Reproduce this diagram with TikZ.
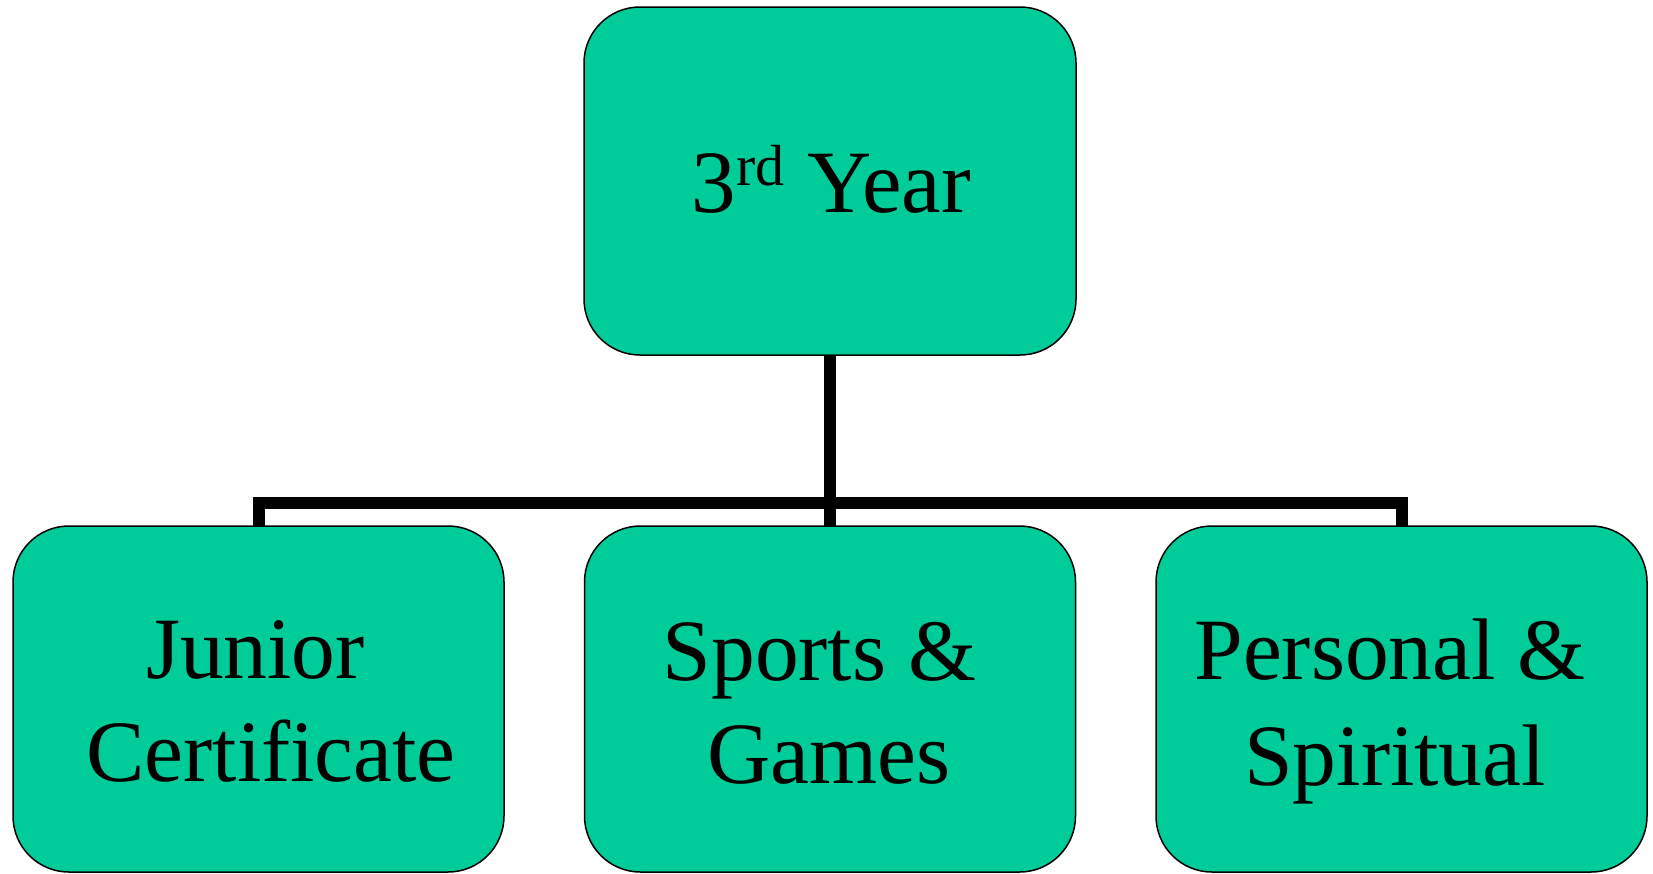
\documentclass[tikz,border=0pt]{standalone}
\usepackage{fontspec}
\setmainfont{Liberation Serif}
\definecolor{boxgreen}{RGB}{0,204,153}
\begin{document}
\begin{tikzpicture}[x=1pt,y=-1pt,
  card/.style={draw=black, line width=1.5pt, fill=boxgreen, rounded corners=56pt,
    minimum width=491pt, minimum height=346pt, inner sep=0pt, outer sep=0pt},
  txt/.style={anchor=base, inner sep=0pt, font=\fontsize{87.5}{103}\selectfont},
  link/.style={draw=black, line width=12pt, miter limit=10}]
\useasboundingbox (0,0) rectangle (1653,873);
% boxes
\node[card, minimum width=492pt, minimum height=348pt] (top) at (830,181) {};
\node[card] (jc) at (258.5,699) {};
\node[card] (sg) at (830,699) {};
\node[card] (ps) at (1401.5,699) {};
% connectors
\coordinate (bar) at (830,503.3);
\draw[link] (top.south) -- (sg.north);
\draw[link] (jc.north) |- (bar) -| (ps.north);
% texts
\node[txt, font=\fontsize{89}{103}\selectfont] (t1) at (831.5,212.7) {3\raisebox{27pt}{\fontsize{58}{60}\selectfont rd} Year};
\node[txt] (j1) at (255.4,678) {Junior};
\node[txt] (j2) at (271,781.7) {Certificate};
\node[txt] (s1) at (819.5,680) {Sports \&};
\node[txt] (s2) at (829,783) {Games};
\node[txt] (p1) at (1390,679) {Personal \&};
\node[txt] (p2) at (1395,785) {Spiritual};
\end{tikzpicture}
\end{document}
